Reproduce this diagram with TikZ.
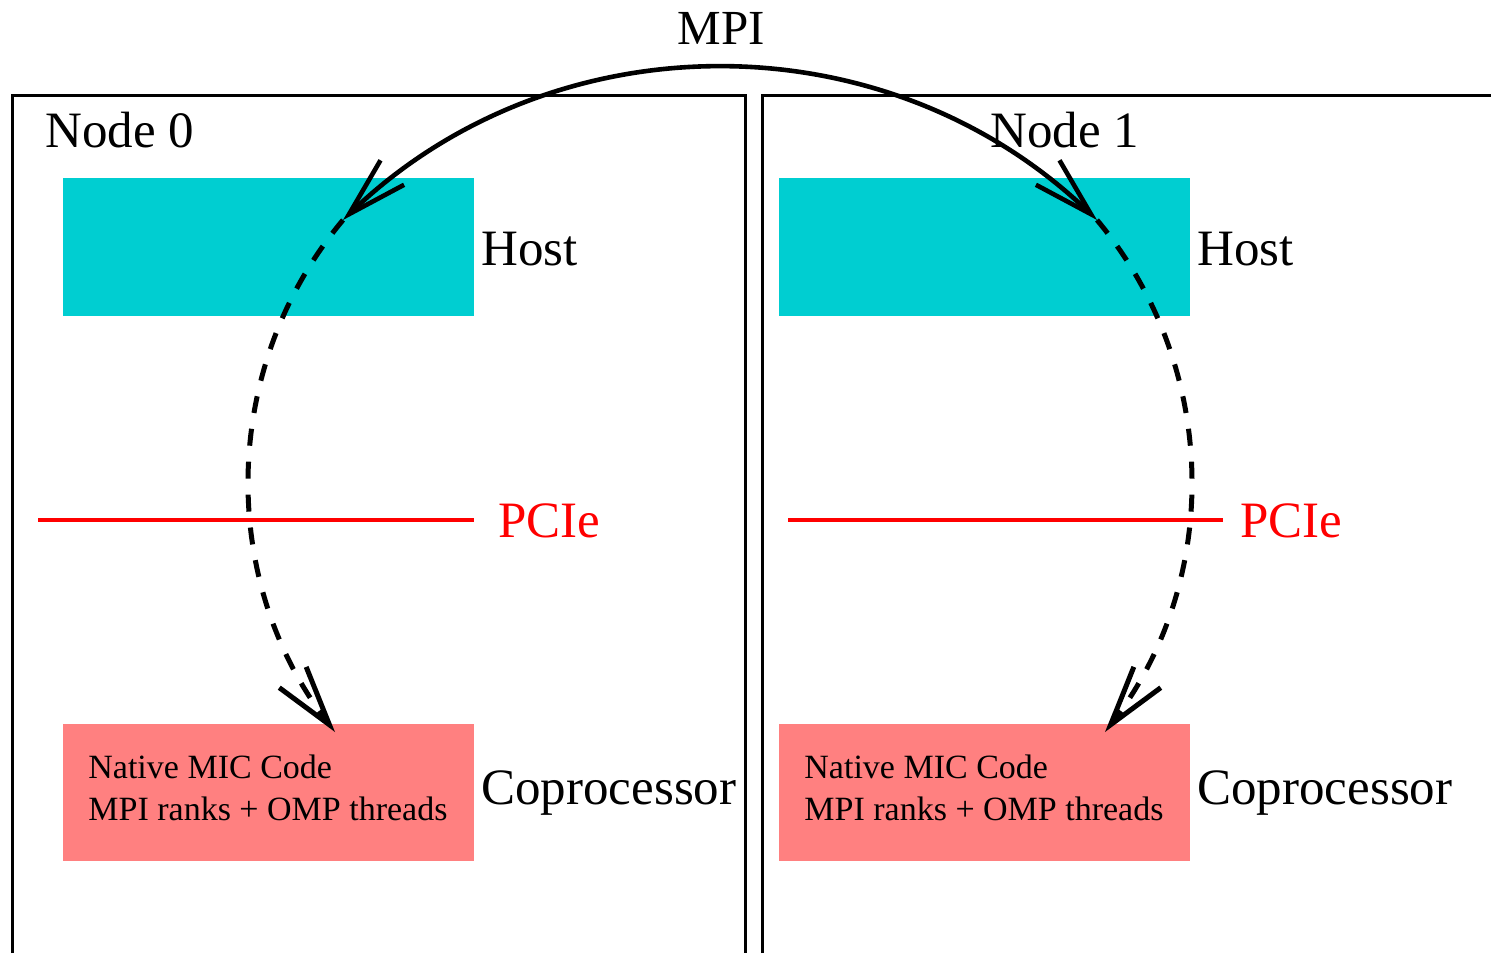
\documentclass[tikz,border=0pt]{standalone}
\usepackage{fontspec}
\setmainfont{Liberation Serif}
\usetikzlibrary{arrows.meta}
\definecolor{hostcyan}{RGB}{0,206,209}
\definecolor{micpink}{RGB}{255,128,128}
\begin{document}
\begin{tikzpicture}[x=0.5pt,y=-0.5pt,
  frame/.style={line width=1.5pt},
  hostbox/.style={fill=hostcyan, draw=none, inner sep=0pt, anchor=north west,
    minimum width=205.5pt, minimum height=69pt},
  micbox/.style={fill=micpink, draw=none, inner sep=0pt, anchor=north west,
    minimum width=205.5pt, minimum height=68.5pt},
  lbl/.style={font=\fontsize{25.5}{30}\selectfont, inner sep=0pt, anchor=base west},
  pcielbl/.style={lbl, text=red},
  mictext/.style={font=\fontsize{17}{21}\selectfont, inner sep=0pt, anchor=base west},
  pcie/.style={draw=red, line width=2pt},
  mpilink/.style={line width=2.3pt,
    {Straight Barb[length=30pt,width=17pt]}-{Straight Barb[length=30pt,width=17pt]}},
  pcilink/.style={line width=2.5pt, dash pattern=on 8.5pt off 8pt,
    -{Straight Barb[length=30pt,width=17pt]}},
]
\useasboundingbox (0,0) rectangle (1491,953);

% node frames
\draw[frame] (12,953) -- (12,95) -- (745,95) -- (745,953);
\draw[frame] (762,953) -- (762,95) -- (1491,95);

\node[lbl] (node0) at (45,147) {Node 0};
\node[lbl] (node1) at (990,147) {Node 1};

% host and coprocessor blocks
\node[hostbox] (host0) at (63,178) {};
\node[hostbox] (host1) at (779,178) {};
\node[micbox] (mic0) at (63,724) {};
\node[micbox] (mic1) at (779,724) {};

\node[lbl] (hostlbl0) at (481,265) {Host};
\node[lbl] (hostlbl1) at (1197,265) {Host};
\node[lbl] (coplbl0) at (481,804) {Coprocessor};
\node[lbl] (coplbl1) at (1197,804) {Coprocessor};

\node[mictext] (mica0) at (88,778) {Native MIC Code};
\node[mictext] (micb0) at (88,820) {MPI ranks + OMP threads};
\node[mictext] (mica1) at (804,778) {Native MIC Code};
\node[mictext] (micb1) at (804,820) {MPI ranks + OMP threads};

% PCIe buses
\coordinate (bus0a) at (38,520);
\coordinate (bus0b) at (474,520);
\coordinate (bus1a) at (788,520);
\coordinate (bus1b) at (1223,520);
\draw[pcie] (bus0a) -- (bus0b);
\draw[pcie] (bus1a) -- (bus1b);
\node[pcielbl] (pcielbl0) at (498,537) {PCIe};
\node[pcielbl] (pcielbl1) at (1240,537) {PCIe};

% communication paths
\coordinate (h0in) at (343,220);
\coordinate (h1in) at (1097,220);
\coordinate (m0in) at (335,732);
\coordinate (m1in) at (1105,732);

\draw[pcilink] (h0in) .. controls (220,367) and (218,580.5) .. (m0in);
\draw[pcilink] (h1in) .. controls (1220,367) and (1222,580.5) .. (m1in);
\draw[mpilink] (h0in) .. controls (553.5,17.3) and (886.5,17.3) .. (h1in);

\node[font=\fontsize{24.5}{29}\selectfont, inner sep=0pt, anchor=base] (mpilbl) at (721,44) {MPI};
\end{tikzpicture}
\end{document}
